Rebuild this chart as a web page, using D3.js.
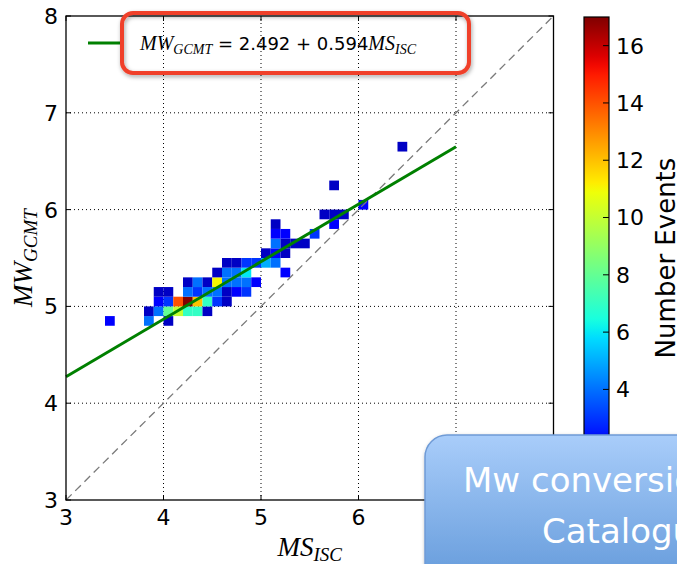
<!DOCTYPE html>
<html>
<head>
<meta charset="utf-8">
<script src="https://cdn.jsdelivr.net/npm/d3@7"></script>
<style>
body { margin: 0; background: #fff; }
svg { display: block; }
text { font-family: "DejaVu Sans", sans-serif; }
.math { font-family: "Liberation Serif", serif; font-style: italic; }
</style>
</head>
<body>
<div id="main"></div>
<script>
var WIDTH = 677
var HEIGHT = 564

// axis ticks (labels under the callout box are not visible)
var xTicks = [3, 4, 5, 6, 7, 8]
var xTickLabels = [3, 4, 5, 6]
var yTicks = [3, 4, 5, 6, 7, 8]
var cbTicks = [4, 6, 8, 10, 12, 14, 16]

// 2d histogram, lower-left corner of each 0.1 x 0.1 bin + count
var binMS = [3.4, 3.8, 4.0,
    3.8, 3.9, 4.0, 4.1, 4.2, 4.3, 4.4,
    3.9, 4.0, 4.1, 4.2, 4.3, 4.4, 4.5, 4.6,
    3.9, 4.0, 4.2, 4.3, 4.4, 4.5, 4.6, 4.7, 4.8,
    4.2, 4.3, 4.4, 4.5, 4.6, 4.7, 4.8, 4.9,
    4.5, 4.6, 4.7, 4.8, 5.2,
    4.6, 4.7, 4.8, 4.9, 5.0, 5.1,
    5.0, 5.1, 5.2,
    5.1, 5.2, 5.3, 5.4,
    5.1, 5.2, 5.5,
    5.1, 5.7,
    5.6, 5.7, 5.8,
    6.0, 5.7, 6.4]
var binMW = [4.8, 4.8, 4.8,
    4.9, 4.9, 4.9, 4.9, 4.9, 4.9, 4.9,
    5.0, 5.0, 5.0, 5.0, 5.0, 5.0, 5.0, 5.0,
    5.1, 5.1, 5.1, 5.1, 5.1, 5.1, 5.1, 5.1, 5.1,
    5.2, 5.2, 5.2, 5.2, 5.2, 5.2, 5.2, 5.2,
    5.3, 5.3, 5.3, 5.3, 5.3,
    5.4, 5.4, 5.4, 5.4, 5.4, 5.4,
    5.5, 5.5, 5.5,
    5.6, 5.6, 5.6, 5.6,
    5.7, 5.7, 5.7,
    5.8, 5.8,
    5.9, 5.9, 5.9,
    6.0, 6.2, 6.6]
var binCount = [2, 4, 1,
    1, 4, 8, 10, 7, 7, 1,
    2, 3, 14, 17, 12, 7, 3, 1,
    1, 1, 4, 3, 4, 4, 1, 2, 3,
    1, 4, 1, 11, 4, 4, 4, 2,
    1, 4, 4, 6, 2,
    1, 1, 3, 3, 5, 4,
    1, 2, 1,
    4, 1, 1, 1,
    2, 2, 3,
    1, 2,
    1, 1, 1,
    2, 1, 1]

var fitIntercept = 2.492
var fitSlope = 0.594
var fitRange = [3, 7]
var binSize = 0.1
var countRange = [0, 17]

// matplotlib jet
var jr = d3.scaleLinear().domain([0, 0.35, 0.66, 0.89, 1]).range([0, 0, 1, 1, 0.5]).clamp(true)
var jg = d3.scaleLinear().domain([0, 0.125, 0.375, 0.64, 0.91, 1]).range([0, 0, 1, 1, 0, 0]).clamp(true)
var jb = d3.scaleLinear().domain([0, 0.11, 0.34, 0.65, 1]).range([0.5, 1, 1, 0, 0]).clamp(true)
function jet(t) {
    return d3.rgb(jr(t) * 255, jg(t) * 255, jb(t) * 255).formatHex()
}
var cnorm = d3.scaleLinear().domain(countRange).range([0, 1])

var svg = d3.select('#main').append('svg')
    .attr('width', WIDTH)
    .attr('height', HEIGHT)

var defs = svg.append('defs')
var sh = defs.append('filter').attr('id', 'shadow').attr('x', '-10%').attr('y', '-30%').attr('width', '120%').attr('height', '160%')
sh.append('feDropShadow').attr('dx', 1).attr('dy', 2).attr('stdDeviation', 2).attr('flood-color', '#000').attr('flood-opacity', 0.35)

var x = d3.scaleLinear().domain([3, 8]).range([66, 553.5])
var y = d3.scaleLinear().domain([3, 8]).range([500, 16])

var plot = svg.append('g')

// grid
plot.selectAll('line.gx')
    .data(xTicks.slice(1, -1))
    .enter().append('line')
    .attr('x1', d => x(d)).attr('x2', d => x(d))
    .attr('y1', y(3)).attr('y2', y(8))
    .attr('stroke', '#000').attr('stroke-width', 1).attr('stroke-dasharray', '1,3')
plot.selectAll('line.gy')
    .data(yTicks.slice(1, -1))
    .enter().append('line')
    .attr('y1', d => y(d)).attr('y2', d => y(d))
    .attr('x1', x(3)).attr('x2', x(8))
    .attr('stroke', '#000').attr('stroke-width', 1).attr('stroke-dasharray', '1,3')

// heatmap cells
plot.selectAll('rect.cell')
    .data(binCount.map((c, i) => ({ ms: binMS[i], mw: binMW[i], c: c })))
    .enter().append('rect')
    .attr('class', 'cell')
    .attr('x', d => x(d.ms))
    .attr('y', d => y(d.mw + binSize))
    .attr('width', d => x(d.ms + binSize) - x(d.ms))
    .attr('height', d => y(d.mw) - y(d.mw + binSize))
    .attr('fill', d => jet(cnorm(d.c)))

// 1:1 line
plot.append('line')
    .attr('x1', x(3)).attr('y1', y(3)).attr('x2', x(8)).attr('y2', y(8))
    .attr('stroke', '#7a7a7a').attr('stroke-width', 1.3).attr('stroke-dasharray', '8,5')

// fit line
plot.append('line')
    .attr('x1', x(fitRange[0])).attr('y1', y(fitIntercept + fitSlope * fitRange[0]))
    .attr('x2', x(fitRange[1])).attr('y2', y(fitIntercept + fitSlope * fitRange[1]))
    .attr('stroke', '#008000').attr('stroke-width', 3)

// frame
plot.append('rect')
    .attr('x', x(3)).attr('y', y(8))
    .attr('width', x(8) - x(3)).attr('height', y(3) - y(8))
    .attr('fill', 'none').attr('stroke', '#000').attr('stroke-width', 1.3)

// ticks inside, all sides
xTicks.forEach(function (t) {
    plot.append('line').attr('x1', x(t)).attr('x2', x(t)).attr('y1', y(3)).attr('y2', y(3) - 5).attr('stroke', '#000')
    plot.append('line').attr('x1', x(t)).attr('x2', x(t)).attr('y1', y(8)).attr('y2', y(8) + 5).attr('stroke', '#000')
})
yTicks.forEach(function (t) {
    plot.append('line').attr('y1', y(t)).attr('y2', y(t)).attr('x1', x(3)).attr('x2', x(3) + 5).attr('stroke', '#000')
    plot.append('line').attr('y1', y(t)).attr('y2', y(t)).attr('x1', x(8)).attr('x2', x(8) - 5).attr('stroke', '#000')
})

plot.selectAll('text.xt')
    .data(xTickLabels)
    .enter().append('text')
    .attr('x', d => x(d)).attr('y', 525)
    .attr('text-anchor', 'middle').attr('font-size', 22)
    .text(d => d)
plot.selectAll('text.yt')
    .data(yTicks)
    .enter().append('text')
    .attr('x', 58).attr('y', d => y(d)).attr('dy', '0.36em')
    .attr('text-anchor', 'end').attr('font-size', 22)
    .text(d => d)

// axis titles
var xt = svg.append('text').attr('x', x(5.5)).attr('y', 556).attr('text-anchor', 'middle').attr('class', 'math')
xt.append('tspan').attr('font-size', 27).text('MS')
xt.append('tspan').attr('font-size', 19).attr('dy', 5).text('ISC')

var yt = svg.append('text').attr('class', 'math').attr('text-anchor', 'middle')
    .attr('transform', 'translate(32,' + y(5.5) + ') rotate(-90)')
yt.append('tspan').attr('font-size', 27).text('MW')
yt.append('tspan').attr('font-size', 19).attr('dy', 5).text('GCMT')

// legend
svg.append('line').attr('x1', 88).attr('x2', 122).attr('y1', 43).attr('y2', 43)
    .attr('stroke', '#008000').attr('stroke-width', 3)
var lt = svg.append('text').attr('x', 140).attr('y', 50).attr('font-size', 18)
lt.append('tspan').attr('class', 'math').attr('font-size', 20).text('MW')
lt.append('tspan').attr('class', 'math').attr('font-size', 14).attr('dy', 4).text('GCMT')
lt.append('tspan').attr('dy', -4).text(' = 2.492 + 0.594')
lt.append('tspan').attr('class', 'math').attr('font-size', 20).text('MS')
lt.append('tspan').attr('class', 'math').attr('font-size', 14).attr('dy', 4).text('ISC')

svg.append('rect')
    .attr('x', 122).attr('y', 13).attr('width', 347).attr('height', 60).attr('rx', 11)
    .attr('fill', 'none').attr('stroke', '#f0402a').attr('stroke-width', 4)
    .attr('filter', 'url(#shadow)')

// colorbar
var cy = d3.scaleLinear().domain(countRange).range([504, 17])
var grad = defs.append('linearGradient').attr('id', 'jet')
    .attr('x1', 0).attr('y1', 1).attr('x2', 0).attr('y2', 0)
d3.range(0, 1.0001, 0.02).forEach(function (t) {
    grad.append('stop').attr('offset', t).attr('stop-color', jet(t))
})
svg.append('rect')
    .attr('x', 584).attr('y', cy(17)).attr('width', 25).attr('height', cy(0) - cy(17))
    .attr('fill', 'url(#jet)').attr('stroke', '#000').attr('stroke-width', 1.2)
svg.selectAll('line.cbt')
    .data(cbTicks)
    .enter().append('line')
    .attr('x1', 603).attr('x2', 609).attr('y1', d => cy(d)).attr('y2', d => cy(d))
    .attr('stroke', '#000')
svg.selectAll('text.cbt')
    .data(cbTicks)
    .enter().append('text')
    .attr('x', 616).attr('y', d => cy(d)).attr('dy', '0.36em')
    .attr('font-size', 22)
    .text(d => d)
svg.append('text')
    .attr('transform', 'translate(675,258) rotate(-90)')
    .attr('text-anchor', 'middle').attr('font-size', 26)
    .text('Number Events')

// slide callout over the corner
var bg = defs.append('linearGradient').attr('id', 'callout')
    .attr('x1', 0).attr('y1', 0).attr('x2', 0).attr('y2', 1)
bg.append('stop').attr('offset', 0).attr('stop-color', '#a9cdfa')
bg.append('stop').attr('offset', 1).attr('stop-color', '#5a93d6')
svg.append('rect')
    .attr('x', 425).attr('y', 435).attr('width', 320).attr('height', 170).attr('rx', 22)
    .attr('fill', 'url(#callout)').attr('stroke', '#6f9bd6').attr('stroke-width', 1.5)
    .attr('filter', 'url(#shadow)')
svg.append('text').attr('x', 463).attr('y', 492)
    .attr('font-family', '"Open Sans", sans-serif').attr('font-size', 34).attr('fill', '#fff')
    .text('Mw conversion for ISC')
svg.append('text').attr('x', 542).attr('y', 543)
    .attr('font-family', '"Open Sans", sans-serif').attr('font-size', 34).attr('fill', '#fff')
    .text('Catalogue')
</script>
</body>
</html>
